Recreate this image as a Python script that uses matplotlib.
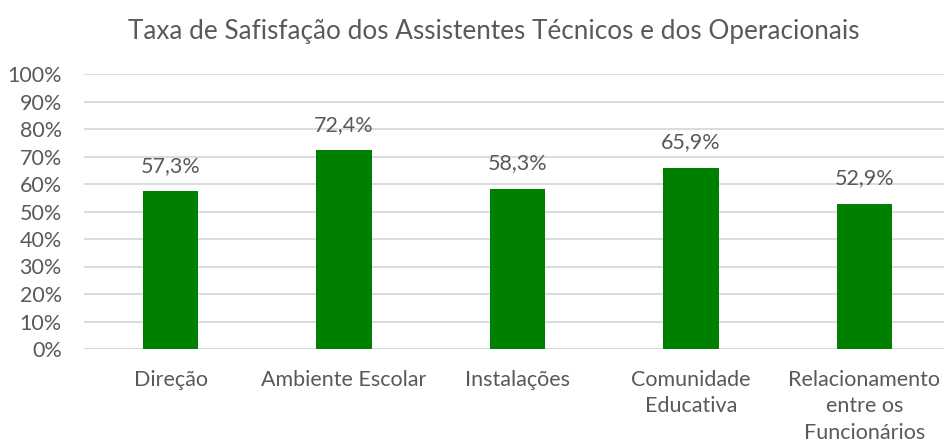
import matplotlib.pyplot as plt

categorias = ['Direção', 'Ambiente Escolar', 'Instalações', 'Comunidade\nEducativa', 'Relacionamento\nentre os\nFuncionários']
valores = [0.573, 0.724, 0.583, 0.659, 0.529]
rotulos = ['57,3%', '72,4%', '58,3%', '65,9%', '52,9%']
ticks_y = [0, 0.1, 0.2, 0.3, 0.4, 0.5, 0.6, 0.7, 0.8, 0.9, 1.0]

cinza = '#595959'
plt.rcParams['font.family'] = ['Lato', 'DejaVu Sans']

fig = plt.figure(figsize=(9.44, 4.45), dpi=100)
ax = fig.add_axes([84 / 944, 96 / 445, 867 / 944, 275 / 445])

x = range(len(categorias))
ax.bar(x, valores, width=0.32, color='#008000', zorder=3)

for xi, v, r in zip(x, valores, rotulos):
    ax.annotate(r, (xi, v), xytext=(0, 11), textcoords='offset points',
                ha='center', va='bottom', fontsize=15.5, color=cinza)

ax.set_xlim(-0.5, 4.5)
ax.set_ylim(0, 1)
ax.set_yticks(ticks_y)
ax.set_yticklabels([f'{int(t * 100)}%' for t in ticks_y])
ax.set_xticks(list(x))
ax.set_xticklabels(categorias, linespacing=1.4)
ax.tick_params(axis='both', length=0, labelsize=15.5, labelcolor=cinza)
ax.tick_params(axis='x', pad=15)
ax.tick_params(axis='y', pad=16)
ax.grid(axis='y', color='#d9d9d9', linewidth=1.3, zorder=0)
for s in ax.spines.values():
    s.set_visible(False)
ax.axhline(0, color='#d9d9d9', linewidth=1.3, zorder=1)

fig.text(494 / 944, 1 - 32 / 445, 'Taxa de Safisfação dos Assistentes Técnicos e dos Operacionais',
         ha='center', va='center', fontsize=18.8, color=cinza)

fig.savefig('out.png', dpi=100)
